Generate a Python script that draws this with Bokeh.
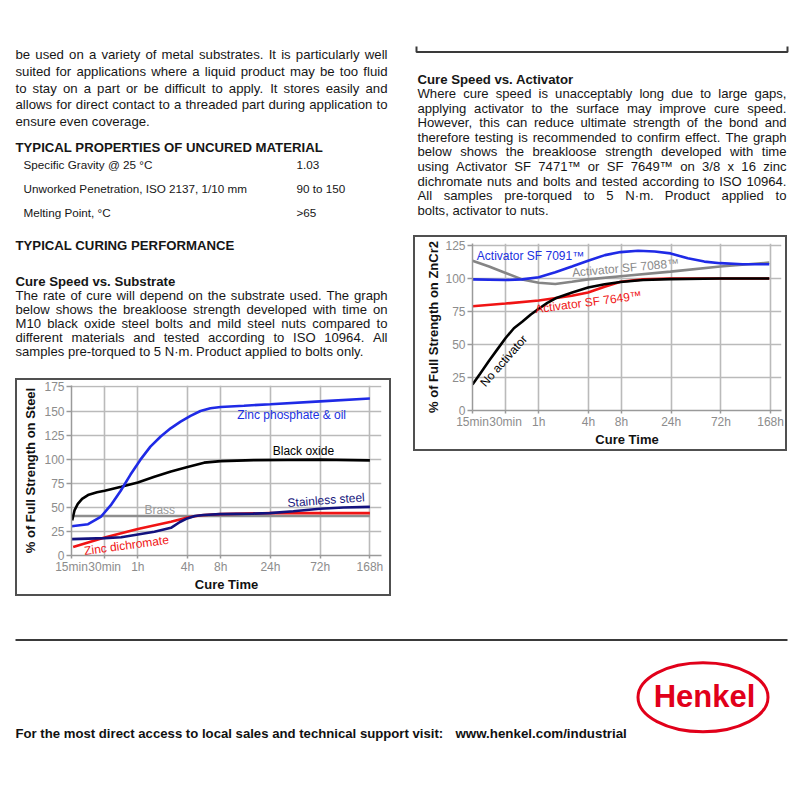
from bokeh.plotting import figure
from bokeh.layouts import column, row
from bokeh.models import Range1d, FixedTicker, AllLabels
from bokeh.embed import file_html
from bokeh.resources import INLINE
from bokeh.core.properties import value

FONT = "Liberation Sans"

# ---------------- data ----------------
tick_pos = [0, 1, 2, 3.5, 4.5, 6, 7.5, 9]
tick_labels = ["15min", "30min", "1h", "4h", "8h", "24h", "72h", "168h"]
sub_yticks = [0, 25, 50, 75, 100, 125, 150, 175]
act_yticks = [0, 25, 50, 75, 100, 125]

# Cure speed vs substrate (x = position on cure-time axis)
zp_t = [0, 0.5, 0.88, 1.18, 1.48, 1.78, 2.08, 2.38, 2.69, 2.99, 3.29, 3.59, 3.89, 4.19, 4.5, 5.2, 6.0, 7.5, 9.0]
zp_v = [30.4, 32.5, 40, 52, 67, 84, 99.5, 113, 123.5, 132, 139, 145, 150, 152.8, 154.2, 155.5, 157, 160, 163]
bo_t = [0.02, 0.09, 0.19, 0.32, 0.52, 0.77, 1.0, 1.5, 2.0, 2.5, 3.0, 3.5, 4.0, 4.5, 5.5, 7.5, 9.0]
bo_v = [36.5, 46.8, 53.6, 58.8, 63.2, 65.6, 67.3, 71.4, 75.9, 81.7, 87.2, 91.9, 96.4, 98, 99, 99.5, 98.8]
br_t = [0, 9.0]
br_v = [41, 41]
zd_t = [0.05, 1.0, 2.0, 3.0, 3.5, 3.9, 4.5, 6.0, 7.5, 9.0]
zd_v = [8.8, 18.8, 27.5, 35, 39.5, 41.8, 43, 44, 44, 44]
ss_t = [0, 1.0, 1.5, 2.0, 2.5, 3.0, 3.27, 3.49, 3.72, 3.98, 4.47, 5.48, 5.98, 6.69, 7.49, 8.2, 9.0]
ss_v = [17, 18, 19, 21.8, 24.6, 28.7, 34.8, 38.5, 41, 42, 43, 43.5, 44, 46, 48.5, 49.8, 50.5]

# Cure speed vs activator
a91_t = [0, 1.0, 1.5, 2.0, 2.5, 3.0, 3.49, 4.0, 4.47, 5.0, 5.5, 5.98, 6.5, 7.0, 7.48, 8.15, 8.96]
a91_v = [99.3, 98.8, 99.3, 101, 104.7, 109.1, 113.5, 117.7, 120, 121, 120.4, 119, 115.3, 112.8, 111.6, 110.8, 110.8]
a88_t = [0, 0.5, 1.0, 1.5, 2.0, 2.5, 3.0, 3.49, 4.47, 5.98, 7.48, 8.96]
a88_v = [113.5, 109.1, 104.2, 99.3, 96.8, 95.8, 97.5, 99.3, 101.7, 105.2, 109.1, 112]
a49_t = [0, 1.0, 2.0, 3.0, 3.49, 3.99, 4.47, 5.15, 5.98, 8.96]
a49_v = [79, 81, 83.3, 86.9, 89.4, 93.8, 97.5, 99.3, 100, 100]
na_t = [0, 0.23, 0.5, 0.75, 1.0, 1.25, 1.5, 1.76, 2.0, 2.26, 2.51, 3.01, 3.49, 3.99, 4.47, 5.15, 5.98, 7.48, 8.96]
na_v = [19.7, 27.8, 37.7, 46.3, 54.9, 62.3, 67.2, 72.7, 77.1, 81.5, 85, 89.4, 93.1, 95.6, 97.3, 98.8, 99.5, 100, 100]

# ---------------- text metrics (Arial / Liberation Sans) ----------------
REG = {" ": 278, "!": 278, '"': 355, "%": 889, "&": 667, "'": 191, "(": 333, ")": 333,
       ",": 278, "-": 333, ".": 278, "/": 278, ":": 278, ";": 278, ">": 584, "@": 1015,
       "°": 400, "·": 278, "™": 1000}
for c in "0123456789":
    REG[c] = 556
for c, w in zip("ABCDEFGHIJKLMNOPQRSTUVWXYZ",
                [667, 667, 722, 722, 667, 611, 778, 722, 278, 500, 667, 556, 833, 722, 778, 667, 778, 722, 667, 611, 722, 667, 944, 667, 667, 611]):
    REG[c] = w
for c, w in zip("abcdefghijklmnopqrstuvwxyz",
                [556, 556, 500, 556, 556, 278, 556, 556, 222, 222, 500, 222, 833, 556, 556, 556, 556, 333, 500, 278, 556, 500, 722, 500, 500, 500]):
    REG[c] = w
BOLD = {" ": 278, "!": 333, '"': 474, "%": 889, "&": 722, "'": 238, "(": 333, ")": 333,
        ",": 278, "-": 333, ".": 278, "/": 278, ":": 333, ";": 333, ">": 584, "@": 975,
        "°": 400, "·": 278, "™": 1000}
for c in "0123456789":
    BOLD[c] = 556
for c, w in zip("ABCDEFGHIJKLMNOPQRSTUVWXYZ",
                [722, 722, 722, 722, 667, 611, 778, 722, 278, 556, 722, 611, 833, 722, 778, 667, 778, 722, 667, 611, 722, 667, 944, 667, 667, 611]):
    BOLD[c] = w
for c, w in zip("abcdefghijklmnopqrstuvwxyz",
                [556, 611, 556, 611, 556, 333, 611, 611, 278, 278, 556, 278, 889, 611, 611, 611, 611, 389, 556, 333, 611, 556, 778, 556, 556, 500]):
    BOLD[c] = w


def tw(s, fs, bold=False):
    t = BOLD if bold else REG
    return sum(t.get(ch, 556) for ch in s) * fs / 1000.0


def para(p, lines, x0, x1, y0, dy, fs, bold=False, color="#161616", justify_last=False):
    xs, ys, ts = [], [], []
    for i, line in enumerate(lines):
        words = line.split()
        widths = [tw(w, fs, bold) for w in words]
        last = (i == len(lines) - 1) and not justify_last
        if len(words) > 1 and not last:
            gap = (x1 - x0 - sum(widths)) / (len(words) - 1)
        else:
            gap = tw(" ", fs, bold)
        x = x0
        for w, wd in zip(words, widths):
            xs.append(x)
            ys.append(y0 + i * dy)
            ts.append(w)
            x += wd + gap
    p.text(x=xs, y=ys, text=ts, text_font=value(FONT), text_font_size=f"{fs}px",
           text_font_style="bold" if bold else "normal", text_baseline="middle",
           text_align="left", text_color=color)


def label(p, x, y, s, fs, bold=False, color="#161616", align="left"):
    p.text(x=[x], y=[y], text=[s], text_font=value(FONT), text_font_size=f"{fs}px",
           text_font_style="bold" if bold else "normal", text_baseline="middle",
           text_align=align, text_color=color)


def text_fig(w, h, x0, y0):
    p = figure(width=w, height=h, x_range=Range1d(x0, x0 + w), y_range=Range1d(y0 + h, y0),
               output_backend="svg", toolbar_location=None, x_axis_location=None,
               y_axis_location=None, min_border=0, frame_align=False)
    p.xgrid.visible = False
    p.ygrid.visible = False
    p.outline_line_color = None
    p.background_fill_color = "white"
    p.border_fill_color = "white"
    return p


def chart(w, h, xr, yr, yticks, ylabel, mb, ylab_standoff):
    p = figure(width=w, height=h, x_range=Range1d(*xr), y_range=Range1d(*yr),
               output_backend="svg", toolbar_location=None, frame_align=False,
               min_border_left=mb[0], min_border_right=mb[1],
               min_border_top=mb[2], min_border_bottom=mb[3])
    p.outline_line_color = None
    p.background_fill_color = "white"
    p.border_fill_color = "white"
    xt = FixedTicker(ticks=tick_pos)
    yt = FixedTicker(ticks=yticks)
    p.xaxis.ticker = xt
    p.xgrid.ticker = xt
    p.yaxis.ticker = yt
    p.ygrid.ticker = yt
    p.xaxis.major_label_overrides = {float(t): l for t, l in zip(tick_pos, tick_labels)}
    p.xaxis.major_label_policy = AllLabels()
    for g in (p.xgrid[0], p.ygrid[0]):
        g.grid_line_color = "#bababa"
        g.grid_line_width = 1.6
    for ax in (p.xaxis[0], p.yaxis[0]):
        ax.axis_line_color = "#9a9a9a"
        ax.axis_line_width = 1.5
        ax.major_tick_line_color = "#9a9a9a"
        ax.major_tick_line_width = 1.5
        ax.major_tick_in = 0
        ax.minor_tick_line_color = None
        ax.major_label_text_color = "#8c8c8c"
        ax.major_label_text_font = FONT
        ax.major_label_text_font_size = "12px"
        ax.axis_label_text_font = FONT
        ax.axis_label_text_font_size = "13px"
        ax.axis_label_text_font_style = "bold"
        ax.axis_label_text_color = "#111111"
    p.xaxis.major_tick_out = 3
    p.xaxis.major_label_standoff = 1
    p.xaxis.axis_label_standoff = 0
    p.xaxis.axis_label = "Cure Time"
    p.yaxis.major_tick_out = 5
    p.yaxis.major_label_standoff = 2
    p.yaxis.axis_label_standoff = ylab_standoff
    p.yaxis.axis_label = ylabel
    return p


# ---------------- left text ----------------
txtL = text_fig(400, 376, 0, 0)
para(txtL, [
    "be used on a variety of metal substrates. It is particularly well",
    "suited for applications where a liquid product may be too fluid",
    "to stay on a part or be difficult to apply. It stores easily and",
    "allows for direct contact to a threaded part during application to",
    "ensure even coverage.",
], 15, 387, 54, 16.75, 13.2)
label(txtL, 15, 147, "TYPICAL PROPERTIES OF UNCURED MATERIAL", 13.2, bold=True)
rows_l = ["Specific Gravity @ 25 °C", "Unworked Penetration, ISO 2137, 1/10 mm", "Melting Point, °C"]
rows_v = ["1.03", "90 to 150", ">65"]
for i, (a, b) in enumerate(zip(rows_l, rows_v)):
    label(txtL, 23, 164 + i * 23.8, a, 11.7)
    label(txtL, 296, 164 + i * 23.8, b, 11.7)
label(txtL, 15, 245, "TYPICAL CURING PERFORMANCE", 13.2, bold=True)
label(txtL, 15, 280.5, "Cure Speed vs. Substrate", 13.2, bold=True)
para(txtL, [
    "The rate of cure will depend on the substrate used. The graph",
    "below shows the breakloose strength developed with time on",
    "M10 black oxide steel bolts and mild steel nuts compared to",
    "different materials and tested according to ISO 10964. All",
    "samples pre-torqued to 5 N·m. Product applied to bolts only.",
], 15, 387, 294.5, 14.1, 13.1)

# ---------------- right text ----------------
txtR = text_fig(392, 233, 400, 0)
txtR.line(x=[416, 416, 787, 787], y=[46, 51.5, 51.5, 46], line_color="#3a3a3a", line_width=2)
label(txtR, 417, 79, "Cure Speed vs. Activator", 13.2, bold=True)
para(txtR, [
    "Where cure speed is unacceptably long due to large gaps,",
    "applying activator to the surface may improve cure speed.",
    "However, this can reduce ultimate strength of the bond and",
    "therefore testing is recommended to confirm effect. The graph",
    "below shows the breakloose strength developed with time",
    "using Activator SF 7471™ or SF 7649™ on 3/8 x 16 zinc",
    "dichromate nuts and bolts and tested according to ISO 10964.",
    "All samples pre-torqued to 5 N·m. Product applied to",
    "bolts, activator to nuts.",
], 417, 786, 93, 14.6, 13.1)

# ---------------- chart 1: substrate ----------------
c1 = chart(372, 214, (0, 9.35), (0, 176.5), sub_yticks, "% of Full Strength on Steel",
           (54, 8, 5, 37), 3)
c1.line(br_t, br_v, line_color="#8e8e8e", line_width=2.6)
c1.line(zd_t, zd_v, line_color="#f01414", line_width=2.6)
c1.line(ss_t, ss_v, line_color="#12127e", line_width=2.6)
c1.line(bo_t, bo_v, line_color="#000000", line_width=2.6)
c1.line(zp_t, zp_v, line_color="#1f2ae6", line_width=2.6)
c1.text(x=[5.0], y=[146], text=["Zinc phosphate & oil"], text_color="#2030e0",
        text_font=value(FONT), text_font_size="12px", text_baseline="middle")
c1.text(x=[6.07], y=[108], text=["Black oxide"], text_color="#000000",
        text_font=value(FONT), text_font_size="12px", text_baseline="middle")
c1.text(x=[7.68], y=[57.5], text=["Stainless steel"], text_color="#1a1a80", angle=0.075,
        text_align="center", text_font=value(FONT), text_font_size="12px", text_baseline="middle")
c1.text(x=[2.2], y=[47], text=["Brass"], text_color="#9a9a9a",
        text_font=value(FONT), text_font_size="12px", text_baseline="middle")
c1.text(x=[1.66], y=[10.5], text=["Zinc dichromate"], text_color="#f01414", angle=0.133,
        text_align="center", text_font=value(FONT), text_font_size="12px", text_baseline="middle")
c1.margin = (4, 11, 6, 17)
c1.styles = {"outline": "2px solid #505050"}

# ---------------- chart 2: activator ----------------
c2 = chart(370, 212, (0, 9.33), (0, 126.5), act_yticks, "% of Full Strength on ZnCr2",
           (57, 4, 6, 35), 1)
c2.line(a88_t, a88_v, line_color="#858585", line_width=2.6)
c2.line(a49_t, a49_v, line_color="#f01414", line_width=2.6)
c2.line(na_t, na_v, line_color="#000000", line_width=2.6)
c2.line(a91_t, a91_v, line_color="#1f2ae6", line_width=2.6)
c2.text(x=[0.13], y=[117], text=["Activator SF 7091™"], text_color="#2030e0",
        text_font=value(FONT), text_font_size="12px", text_baseline="middle")
c2.text(x=[4.62], y=[108], text=["Activator SF 7088™"], text_color="#8a8a8a", angle=0.09,
        text_align="center", text_font=value(FONT), text_font_size="12px", text_baseline="middle")
c2.text(x=[3.5], y=[82], text=["Activator SF 7649™"], text_color="#f01414", angle=0.13,
        text_align="center", text_font=value(FONT), text_font_size="12px", text_baseline="middle")
c2.text(x=[0.94], y=[37.6], text=["No activator"], text_color="#000000", angle=0.845,
        text_align="center", text_font=value(FONT), text_font_size="12px", text_baseline="middle")
c2.margin = (4, 7, 151, 15)
c2.styles = {"outline": "2px solid #505050"}

# ---------------- footer ----------------
foot = text_fig(792, 180, 0, 600)
foot.line(x=[15, 787], y=[639.5, 639.5], line_color="#3a3a3a", line_width=2)
s1 = "For the most direct access to local sales and technical support visit:"
s2 = "www.henkel.com/industrial"
fs1 = round(428 / tw(s1, 1, True), 2)
fs2 = round(172 / tw(s2, 1, True), 2)
label(foot, 15, 733, s1, fs1, bold=True, color="#111111")
label(foot, 455, 733, s2, fs2, bold=True, color="#111111")
foot.ellipse(x=[702.5], y=[696.7], width=[130], height=[69], fill_color=None,
             line_color="#e1001a", line_width=3)
label(foot, 704, 695.5, "Henkel", 31, bold=True, color="#e1001a", align="center")

layout = column(row(column(txtL, c1), column(txtR, c2)), foot)
open("out.html", "w").write(file_html(layout, INLINE))
